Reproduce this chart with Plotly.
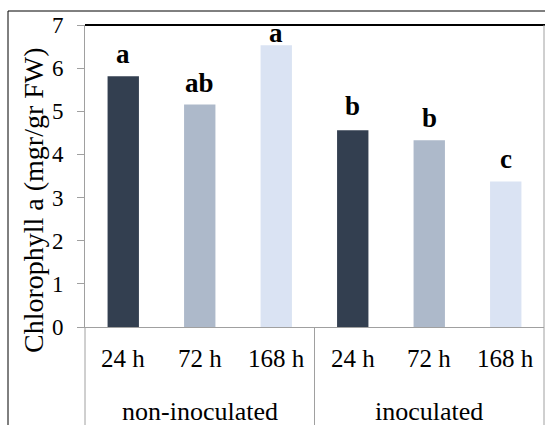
import plotly.graph_objects as go

groups = ["non-inoculated"] * 3 + ["inoculated"] * 3
times = ["24 h", "72 h", "168 h", "24 h", "72 h", "168 h"]
chlorophyll_a = [5.81, 5.16, 6.53, 4.56, 4.33, 3.37]
letters = ["a", "ab", "a", "b", "b", "c"]
bar_colors = ["#333F50", "#ADB9CA", "#DAE3F3", "#333F50", "#ADB9CA", "#DAE3F3"]

FONT = "Liberation Serif"
W, H = 545, 425
L, R, T, B = 85, 1, 25, 98
pw, ph = W - L - R, H - T - B
AXIS_GREY = "#A0A0A0"

def px_x(x):
    return (x - L) / pw

def px_y(y):
    return (H - B - y) / ph

fig = go.Figure()
fig.add_trace(go.Bar(
    x=[groups, times],
    y=chlorophyll_a,
    marker=dict(color=bar_colors, line=dict(width=0)),
    showlegend=False,
))

annotations = []
# significance letters above the bars
shifts = [22, 21, 12, 24, 22, 23]
for i, (g, t, v, lab) in enumerate(zip(groups, times, chlorophyll_a, letters)):
    annotations.append(dict(
        x=[g, t], y=v, xref="x", yref="y", text="<b>%s</b>" % lab,
        showarrow=False, yanchor="middle", yshift=shifts[i],
        font=dict(family=FONT, size=27, color="black"),
    ))
# first-level category labels
for g, t in zip(groups, times):
    annotations.append(dict(
        x=[g, t], y=px_y(358), xref="x", yref="paper", text=t,
        showarrow=False, xanchor="center", yanchor="middle",
        font=dict(family=FONT, size=25, color="black"),
    ))
# group labels and dividers
N = len(groups)
group_order = []
for g in groups:
    if g not in group_order:
        group_order.append(g)
shapes = []
start = 0
boundaries = [0.0]
for g in group_order:
    n = groups.count(g)
    annotations.append(dict(
        x=(start + n / 2) / N, y=px_y(411), xref="paper", yref="paper", text=g,
        showarrow=False, xanchor="center", yanchor="middle",
        font=dict(family=FONT, size=26, color="black"),
    ))
    start += n
    boundaries.append(start / N)
for b in boundaries:
    shapes.append(dict(type="line", xref="paper", yref="paper", x0=b, x1=b,
                       y0=0, y1=px_y(426), line=dict(color=AXIS_GREY, width=1)))

annotations.append(dict(
    x=px_x(33), y=px_y(200), xref="paper", yref="paper",
    text="Chlorophyll a (mgr/gr FW)", textangle=-90, showarrow=False,
    xanchor="center", yanchor="middle",
    font=dict(family=FONT, size=28, color="black"),
))

shapes += [
    # outer frame (left and top)
    dict(type="line", xref="paper", yref="paper", x0=px_x(8), x1=px_x(8), y0=px_y(11), y1=px_y(430),
         line=dict(color="black", width=1)),
    dict(type="line", xref="paper", yref="paper", x0=px_x(8), x1=px_x(550), y0=px_y(11), y1=px_y(11),
         line=dict(color="black", width=1)),
    # plot area top border
    dict(type="line", xref="paper", yref="paper", x0=0, x1=1.02, y0=1, y1=1,
         line=dict(color="black", width=2)),
    # plot area right border
    dict(type="line", xref="paper", yref="paper", x0=1, x1=1, y0=0, y1=1,
         line=dict(color=AXIS_GREY, width=1)),
]

fig.update_layout(
    width=W, height=H,
    margin=dict(l=L, r=R, t=T, b=B, autoexpand=False),
    paper_bgcolor="white", plot_bgcolor="white",
    bargap=0.59,
    font=dict(family=FONT, size=22, color="black"),
    annotations=annotations,
    shapes=shapes,
)
fig.update_xaxes(
    type="multicategory", automargin=False,
    showline=True, linecolor=AXIS_GREY, linewidth=1,
    showgrid=False, ticks="", showticklabels=False, showdividers=False,
)
fig.update_yaxes(
    range=[0, 7], dtick=1, showgrid=False, zeroline=False, automargin=False,
    showline=True, linecolor=AXIS_GREY, linewidth=1,
    ticks="outside", ticklen=7, tickcolor=AXIS_GREY,
    ticklabelstandoff=9,
    tickfont=dict(family=FONT, size=23, color="black"),
)

fig.write_html("out.html", config={"displayModeBar": False},
               post_script="document.body.style.margin='0';")
